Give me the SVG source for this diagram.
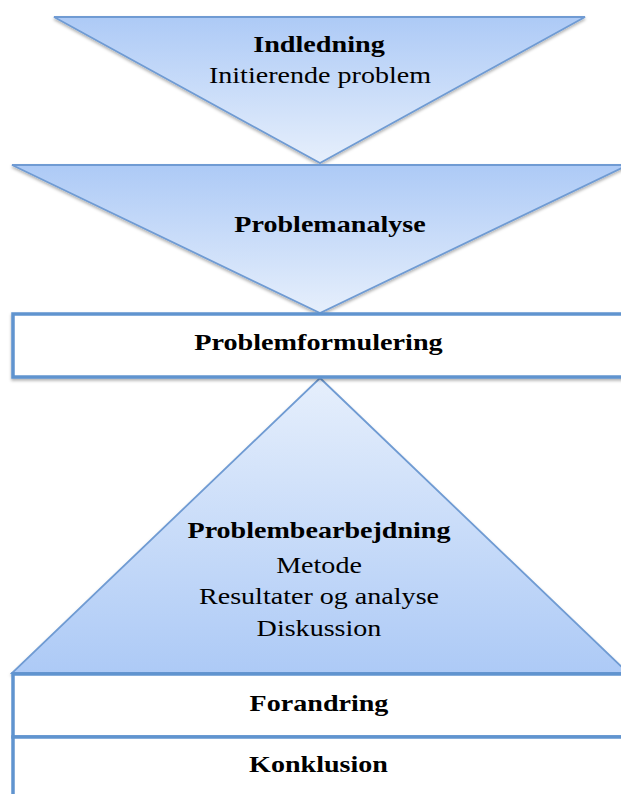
<svg xmlns="http://www.w3.org/2000/svg" width="621" height="794" viewBox="0 0 621 794">
<defs>
<linearGradient id="gDown" x1="0" y1="0" x2="0" y2="1">
<stop offset="0" stop-color="#adcaf6"/>
<stop offset="1" stop-color="#e6effc"/>
</linearGradient>
<linearGradient id="gUp" x1="0" y1="0" x2="0" y2="1">
<stop offset="0" stop-color="#e6effc"/>
<stop offset="1" stop-color="#adcaf6"/>
</linearGradient>
<filter id="sh" x="-10%" y="-10%" width="120%" height="130%">
<feDropShadow dx="0" dy="2" stdDeviation="1.5" flood-color="#000" flood-opacity="0.3"/>
</filter>
</defs>
<style>
.tri{stroke:#6f9bd3;stroke-width:1.8;stroke-linejoin:miter}
.box{fill:#ffffff;stroke:#6094cf;stroke-width:3.5}
text{font-family:"Liberation Serif","Times New Roman",serif;font-size:24px;fill:#000;text-anchor:middle}
.b{font-weight:bold}
</style>
<g id="indledning">
<polygon class="tri" points="54,17 585,17 320,163" fill="url(#gDown)" filter="url(#sh)"/>
<text class="b" transform="matrix(1.175,0,0,1,319,52)">Indledning</text>
<text transform="matrix(1.17,0,0,1,320,83)">Initierende problem</text>
</g>
<g id="problemanalyse">
<polygon class="tri" points="12,165 628,165 320,313" fill="url(#gDown)" filter="url(#sh)"/>
<text class="b" transform="matrix(1.17,0,0,1,330,232)">Problemanalyse</text>
</g>
<g id="problembearbejdning">
<polygon class="tri" points="320,378 628,673 12,673" fill="url(#gUp)" filter="url(#sh)"/>
<text class="b" transform="matrix(1.17,0,0,1,319,538)">Problembearbejdning</text>
<text transform="matrix(1.17,0,0,1,319,573)">Metode</text>
<text transform="matrix(1.17,0,0,1,319,604)">Resultater og analyse</text>
<text transform="matrix(1.17,0,0,1,319,636)">Diskussion</text>
</g>
<g id="problemformulering">
<rect class="box" x="13" y="314" width="620" height="63" filter="url(#sh)"/>
<text class="b" transform="matrix(1.175,0,0,1,318.5,350)">Problemformulering</text>
</g>
<g id="forandring">
<rect class="box" x="13" y="674" width="620" height="63"/>
<text class="b" transform="matrix(1.17,0,0,1,319,711)">Forandring</text>
</g>
<g id="konklusion">
<rect class="box" x="13" y="737" width="620" height="70"/>
<text class="b" transform="matrix(1.17,0,0,1,318.5,772)">Konklusion</text>
</g>
<g id="connectors"></g>
</svg>
